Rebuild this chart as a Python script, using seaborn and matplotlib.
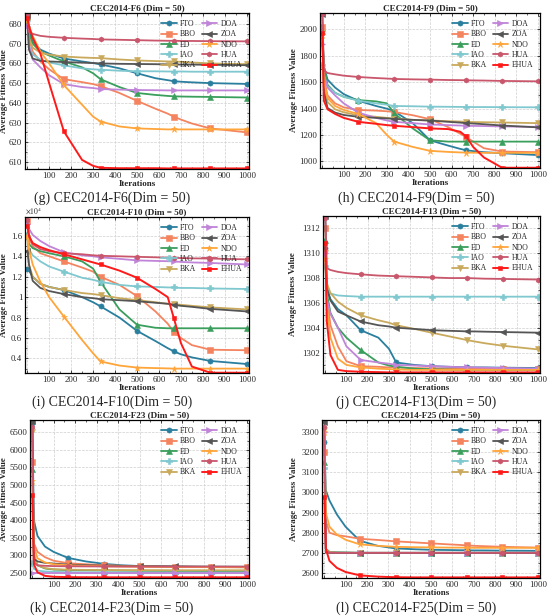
import matplotlib
matplotlib.use("Agg")
import matplotlib.pyplot as plt
import seaborn as sns
from matplotlib.ticker import FuncFormatter, AutoMinorLocator, MultipleLocator

# algorithms, colours and markers
algs = ['FTO', 'BBO', 'ED', 'IAO', 'BKA', 'DOA', 'ZOA', 'NDO', 'HUA', 'EHUA']
colors = ['#2a7f9e', '#f4845f', '#3a9e5c', '#7fc8cf', '#c9a95c',
          '#c084d8', '#555555', '#ffa53a', '#c9566b', '#ff1a1a']
markers = ['o', 's', '^', 'P', 'v', '>', '<', '*', 'h', 's']

iters = [1, 8, 25, 60, 100, 167, 250, 300, 334, 420, 500, 584, 640, 667, 700, 750, 834, 1000]
mark_at = [1, 167, 334, 500, 667, 834, 1000]

# CEC2014-F6
f6 = [
    [684, 677, 671, 667, 665, 662.5, 661, 660.2, 659.5, 657.5, 655, 652.5, 651.5, 651, 650.7, 650.4, 650, 649.6],
    [685, 673, 666, 661, 657, 652, 650.5, 649.5, 648.5, 645, 641, 637, 634.5, 633, 631.5, 629.5, 627, 625],
    [680, 675, 670, 666, 664, 661, 658, 655, 652, 648, 645, 644, 643.5, 643.3, 643.2, 643.1, 643, 642.7],
    [682, 669, 664.5, 662, 660.5, 659, 657.5, 657, 656.8, 656.3, 656, 656, 655.9, 655.9, 655.9, 655.8, 655.8, 655.8],
    [681, 673, 668, 665.5, 664.5, 663.5, 663, 662.8, 662.7, 662, 661.5, 661.2, 661, 661, 660.8, 660.5, 660, 659.6],
    [679, 669, 662, 658, 654, 649.5, 648, 647.5, 647, 646.7, 646.5, 646.4, 646.3, 646.3, 646.3, 646.3, 646.3, 646.3],
    [684, 667, 662.5, 661.3, 661, 660.7, 660.4, 660.2, 660, 659.8, 659.7, 659.6, 659.5, 659.5, 659.4, 659.4, 659.3, 659.1],
    [682, 679, 674, 666, 660, 649, 639, 633, 630.5, 628, 627, 626.7, 626.5, 626.5, 626.5, 626.5, 626.5, 626.5],
    [685, 676, 675, 674, 673.5, 673, 672.6, 672.4, 672.2, 672, 671.8, 671.6, 671.5, 671.5, 671.4, 671.4, 671.3, 671.2],
    [683, 679, 673, 665, 650, 625.5, 611, 608, 607, 606.8, 606.8, 606.8, 606.7, 606.7, 606.7, 606.7, 606.7, 606.7],
]

# CEC2014-F9
f9 = [
    [1990, 1720, 1620, 1560, 1510, 1460, 1420, 1400, 1380, 1290, 1160, 1120, 1095, 1085, 1078, 1070, 1062, 1048],
    [2020, 1630, 1500, 1440, 1410, 1390, 1385, 1380, 1375, 1350, 1320, 1260, 1210, 1185, 1150, 1100, 1075, 1070],
    [1990, 1720, 1580, 1520, 1490, 1465, 1455, 1440, 1365, 1250, 1160, 1150, 1150, 1150, 1150, 1150, 1150, 1150],
    [1730, 1650, 1570, 1520, 1490, 1460, 1440, 1430, 1420, 1418, 1415, 1414, 1413, 1413, 1412, 1412, 1411, 1410],
    [1970, 1590, 1450, 1395, 1372, 1350, 1338, 1330, 1325, 1315, 1310, 1305, 1302, 1300, 1298, 1297, 1295, 1290],
    [1890, 1660, 1560, 1500, 1440, 1370, 1330, 1310, 1300, 1290, 1280, 1275, 1272, 1270, 1269, 1268, 1265, 1262],
    [2120, 1530, 1405, 1370, 1352, 1338, 1330, 1326, 1322, 1315, 1310, 1300, 1294, 1290, 1287, 1282, 1272, 1258],
    [1960, 1610, 1480, 1420, 1390, 1360, 1290, 1200, 1150, 1110, 1080, 1072, 1068, 1067, 1066, 1065, 1065, 1065],
    [2120, 1690, 1670, 1660, 1650, 1640, 1632, 1628, 1625, 1622, 1620, 1617, 1616, 1615, 1614, 1613, 1610, 1607],
    [1970, 1460, 1395, 1360, 1330, 1300, 1285, 1275, 1270, 1260, 1250, 1245, 1225, 1190, 1110, 1030, 952, 952],
]

# CEC2014-F10 (x10^4)
f10 = [
    [1.28, 1.26, 1.2, 1.13, 1.1, 1.07, 1.0, 0.95, 0.91, 0.8, 0.67, 0.57, 0.5, 0.47, 0.44, 0.41, 0.375, 0.345],
    [1.75, 1.58, 1.5, 1.43, 1.4, 1.35, 1.29, 1.25, 1.2, 1.12, 1.01, 0.86, 0.74, 0.66, 0.6, 0.53, 0.485, 0.48],
    [1.62, 1.52, 1.48, 1.45, 1.43, 1.4, 1.35, 1.28, 1.15, 0.88, 0.73, 0.7, 0.695, 0.695, 0.695, 0.695, 0.695, 0.695],
    [1.6, 1.47, 1.41, 1.35, 1.3, 1.25, 1.19, 1.17, 1.15, 1.12, 1.105, 1.1, 1.095, 1.095, 1.09, 1.09, 1.085, 1.08],
    [1.58, 1.32, 1.2, 1.13, 1.1, 1.07, 1.04, 1.03, 1.02, 0.99, 0.97, 0.95, 0.935, 0.93, 0.925, 0.915, 0.9, 0.88],
    [1.72, 1.67, 1.61, 1.55, 1.5, 1.44, 1.41, 1.4, 1.39, 1.375, 1.36, 1.355, 1.352, 1.35, 1.345, 1.34, 1.335, 1.32],
    [1.45, 1.32, 1.16, 1.09, 1.06, 1.03, 1.0, 0.99, 0.98, 0.97, 0.96, 0.945, 0.935, 0.925, 0.915, 0.905, 0.885, 0.86],
    [1.6, 1.47, 1.32, 1.15, 1.0, 0.81, 0.58, 0.45, 0.37, 0.33, 0.31, 0.305, 0.302, 0.3, 0.3, 0.3, 0.3, 0.3],
    [1.76, 1.6, 1.52, 1.47, 1.45, 1.43, 1.42, 1.41, 1.405, 1.4, 1.395, 1.39, 1.387, 1.385, 1.383, 1.38, 1.378, 1.37],
    [1.7, 1.6, 1.53, 1.49, 1.46, 1.42, 1.37, 1.34, 1.32, 1.26, 1.19, 1.08, 1.0, 0.8, 0.55, 0.32, 0.26, 0.26],
]

# CEC2014-F13
f13 = [
    [1310.4, 1307.2, 1306.3, 1305.5, 1305, 1303.8, 1303.2, 1302.3, 1301.2, 1301.0, 1300.9, 1300.85, 1300.82, 1300.8, 1300.8, 1300.8, 1300.78, 1300.75],
    [1312, 1306.5, 1304.2, 1302.5, 1301.3, 1300.9, 1300.85, 1300.8, 1300.8, 1300.75, 1300.72, 1300.7, 1300.7, 1300.7, 1300.7, 1300.7, 1300.7, 1300.68],
    [1311.1, 1306.8, 1305.2, 1304, 1303.2, 1302.2, 1301.2, 1300.95, 1300.85, 1300.7, 1300.65, 1300.62, 1300.6, 1300.6, 1300.6, 1300.6, 1300.6, 1300.6],
    [1309, 1307, 1306.75, 1306.6, 1306.55, 1306.5, 1306.5, 1306.5, 1306.5, 1306.5, 1306.5, 1306.5, 1306.5, 1306.5, 1306.5, 1306.5, 1306.5, 1306.5],
    [1310, 1307.6, 1306.8, 1306.1, 1305.6, 1305, 1304.6, 1304.4, 1304.2, 1303.9, 1303.6, 1303.3, 1303.1, 1303.0, 1302.9, 1302.75, 1302.55, 1302.25],
    [1310, 1306.3, 1305.1, 1304, 1302.5, 1301.4, 1301.2, 1301.1, 1301.0, 1300.95, 1300.9, 1300.85, 1300.82, 1300.8, 1300.8, 1300.78, 1300.75, 1300.7],
    [1313, 1307.2, 1306.2, 1305.3, 1305, 1304.5, 1304.2, 1304.1, 1304.0, 1303.9, 1303.8, 1303.75, 1303.72, 1303.7, 1303.7, 1303.68, 1303.65, 1303.6],
    [1309.5, 1305.8, 1303.2, 1301.5, 1301, 1300.8, 1300.7, 1300.66, 1300.63, 1300.6, 1300.6, 1300.6, 1300.6, 1300.6, 1300.6, 1300.6, 1300.6, 1300.6],
    [1312.8, 1308.8, 1308.65, 1308.5, 1308.4, 1308.3, 1308.2, 1308.17, 1308.15, 1308.1, 1308.05, 1308.0, 1308.0, 1308.0, 1307.98, 1307.95, 1307.93, 1307.88],
    [1310.8, 1304.5, 1301.8, 1300.6, 1300.5, 1300.45, 1300.42, 1300.4, 1300.4, 1300.4, 1300.4, 1300.4, 1300.4, 1300.4, 1300.4, 1300.4, 1300.4, 1300.4],
]

# CEC2014-F23
f23 = [
    [6750, 4000, 3550, 3250, 3100, 2930, 2830, 2790, 2760, 2720, 2700, 2690, 2685, 2682, 2680, 2677, 2672, 2665],
    [5650, 3350, 3100, 2950, 2850, 2780, 2750, 2735, 2725, 2705, 2695, 2688, 2684, 2682, 2680, 2677, 2674, 2668],
    [5450, 2950, 2720, 2630, 2600, 2585, 2578, 2575, 2572, 2568, 2565, 2563, 2562, 2562, 2561, 2561, 2560, 2560],
    [2780, 2620, 2570, 2545, 2535, 2525, 2520, 2518, 2516, 2514, 2512, 2511, 2511, 2510, 2510, 2510, 2510, 2510],
    [6500, 3050, 2720, 2640, 2610, 2595, 2590, 2588, 2586, 2584, 2583, 2582, 2581, 2581, 2580, 2580, 2580, 2580],
    [2510, 2502, 2500, 2500, 2500, 2500, 2500, 2500, 2500, 2500, 2500, 2500, 2500, 2500, 2500, 2500, 2500, 2500],
    [6800, 2900, 2830, 2790, 2770, 2740, 2722, 2715, 2708, 2700, 2695, 2692, 2690, 2689, 2688, 2686, 2684, 2680],
    [5100, 3250, 2920, 2800, 2750, 2720, 2703, 2698, 2692, 2685, 2680, 2676, 2674, 2672, 2671, 2669, 2667, 2662],
    [6650, 2800, 2720, 2705, 2697, 2692, 2689, 2688, 2687, 2685, 2684, 2683, 2682, 2682, 2682, 2681, 2681, 2680],
    [4700, 2750, 2520, 2420, 2395, 2385, 2382, 2381, 2380, 2380, 2380, 2380, 2380, 2380, 2380, 2380, 2380, 2380],
]

# CEC2014-F25
f25 = [
    [3250, 3010, 2960, 2890, 2830, 2760, 2735, 2727, 2722, 2718, 2715, 2714, 2713, 2713, 2712, 2712, 2711, 2710],
    [3200, 2860, 2800, 2788, 2782, 2770, 2764, 2760, 2757, 2752, 2747, 2742, 2739, 2737, 2735, 2733, 2730, 2726],
    [3150, 2720, 2705, 2703, 2702, 2700, 2700, 2700, 2700, 2700, 2700, 2700, 2700, 2700, 2700, 2700, 2700, 2700],
    [3120, 2710, 2702, 2701, 2700, 2700, 2700, 2700, 2700, 2700, 2700, 2700, 2700, 2700, 2700, 2700, 2700, 2700],
    [3310, 2715, 2704, 2701, 2700, 2700, 2700, 2700, 2700, 2700, 2700, 2700, 2700, 2700, 2700, 2700, 2700, 2700],
    [3300, 2705, 2700, 2700, 2700, 2700, 2700, 2700, 2700, 2700, 2700, 2700, 2700, 2700, 2700, 2700, 2700, 2700],
    [3350, 2703, 2700, 2700, 2700, 2700, 2700, 2700, 2700, 2700, 2700, 2700, 2700, 2700, 2700, 2700, 2700, 2700],
    [3300, 2900, 2830, 2790, 2765, 2742, 2735, 2732, 2730, 2728, 2727, 2726, 2726, 2726, 2725, 2725, 2725, 2725],
    [3325, 2708, 2701, 2700, 2700, 2700, 2700, 2700, 2700, 2700, 2700, 2700, 2700, 2700, 2700, 2700, 2700, 2700],
    [2975, 2720, 2660, 2625, 2605, 2588, 2582, 2580, 2579, 2578, 2578, 2578, 2578, 2578, 2578, 2578, 2578, 2578],
]

# panel settings: data, title, caption, ylim, y tick step, box in pixels (left, top, right, bottom)
panels = [
    (f6, 'CEC2014-F6 (Dim = 50)', '(g) CEC2014-F6(Dim = 50)', (606.4, 685.6), 10, (25, 13, 249, 169)),
    (f9, 'CEC2014-F9 (Dim = 50)', '(h) CEC2014-F9(Dim = 50)', (950, 2125), 200, (320, 13, 540, 168)),
    (f10, 'CEC2014-F10 (Dim = 50)', '(i) CEC2014-F10(Dim = 50)', (0.257, 1.785), 0.2, (25, 217, 249, 373)),
    (f13, 'CEC2014-F13 (Dim = 50)', '(j) CEC2014-F13(Dim = 50)', (1300.35, 1313.0), 2, (323, 216, 540, 373)),
    (f23, 'CEC2014-F23 (Dim = 50)', '(k) CEC2014-F23(Dim = 50)', (2360, 6840), 500, (30, 420, 249, 578)),
    (f25, 'CEC2014-F25 (Dim = 50)', '(l) CEC2014-F25(Dim = 50)', (2575, 3360), 100, (322, 420, 540, 578)),
]
caption_x = [112, 416, 112, 416, 112, 416]
caption_y = [198, 198, 402, 402, 608, 608]
ylabel_x = [8, 298, 8, 297, 8, 298]

sns.set_style('ticks')
plt.rcParams['font.family'] = ['Liberation Serif', 'DejaVu Serif']
plt.rcParams['mathtext.fontset'] = 'stix'

W, H = 550, 616
fig = plt.figure(figsize=(W / 100, H / 100), dpi=100)
every = [iters.index(m) for m in mark_at]

for k, (vals, title, cap, ylim, step, box) in enumerate(panels):
    l, t, r, b = box
    ax = fig.add_axes([l / W, 1 - b / H, (r - l) / W, (b - t) / H])
    for name, y, c, m in zip(algs, vals, colors, markers):
        ms = 2.8 if name == 'EHUA' else (4.6 if m == '*' else 3.7)
        sns.lineplot(x=iters, y=y, ax=ax, color=c, marker=m, markersize=ms,
                     markeredgewidth=0.4, markeredgecolor=c, markevery=every,
                     linewidth=1.3 if name != 'EHUA' else 1.4)
    ax.set_xlim(-10, 1010)
    ax.set_ylim(*ylim)
    ax.xaxis.set_major_locator(MultipleLocator(100))
    ax.yaxis.set_major_locator(MultipleLocator(step))
    ax.xaxis.set_minor_locator(AutoMinorLocator(2))
    ax.yaxis.set_minor_locator(AutoMinorLocator(2))
    ax.xaxis.set_major_formatter(FuncFormatter(lambda v, p: '' if v < 50 else '%d' % v))
    ax.yaxis.set_major_formatter(FuncFormatter(lambda v, p: '%g' % round(v, 4)))
    ax.tick_params(which='both', direction='in', top=True, right=True, labelsize=6.3, pad=2)
    ax.tick_params(which='major', length=2.5, width=0.6)
    ax.tick_params(which='minor', length=1.5, width=0.5)
    ax.grid(True, which='major', linestyle='--', color='#cfcfcf', linewidth=0.5)
    for s in ax.spines.values():
        s.set_linewidth(0.9)
        s.set_color('black')
    ax.set_title(title, fontsize=6.6, fontweight='bold', pad=2)
    ax.set_xlabel('Iterations', fontsize=6.5, fontweight='bold', labelpad=0)
    ax.set_ylabel('Average Fitness Value', fontsize=6.5, fontweight='bold')
    ax.yaxis.set_label_coords((ylabel_x[k] - l) / (r - l), 0.5)
    if vals is f10:
        ax.text(0.0, 1.005, r'$\times 10^{4}$', transform=ax.transAxes, fontsize=5.5, va='bottom')
    ax.legend(handles=ax.lines[:len(algs)], labels=algs, loc='upper right', ncol=2,
              frameon=False, fontsize=5.6, handlelength=2.0, columnspacing=0.7,
              labelspacing=0.3, borderaxespad=0.5, handletextpad=0.4)
    fig.text(caption_x[k] / W, 1 - caption_y[k] / H, cap, fontsize=10,
             ha='center', va='center')

fig.savefig('out.png', dpi=100)
